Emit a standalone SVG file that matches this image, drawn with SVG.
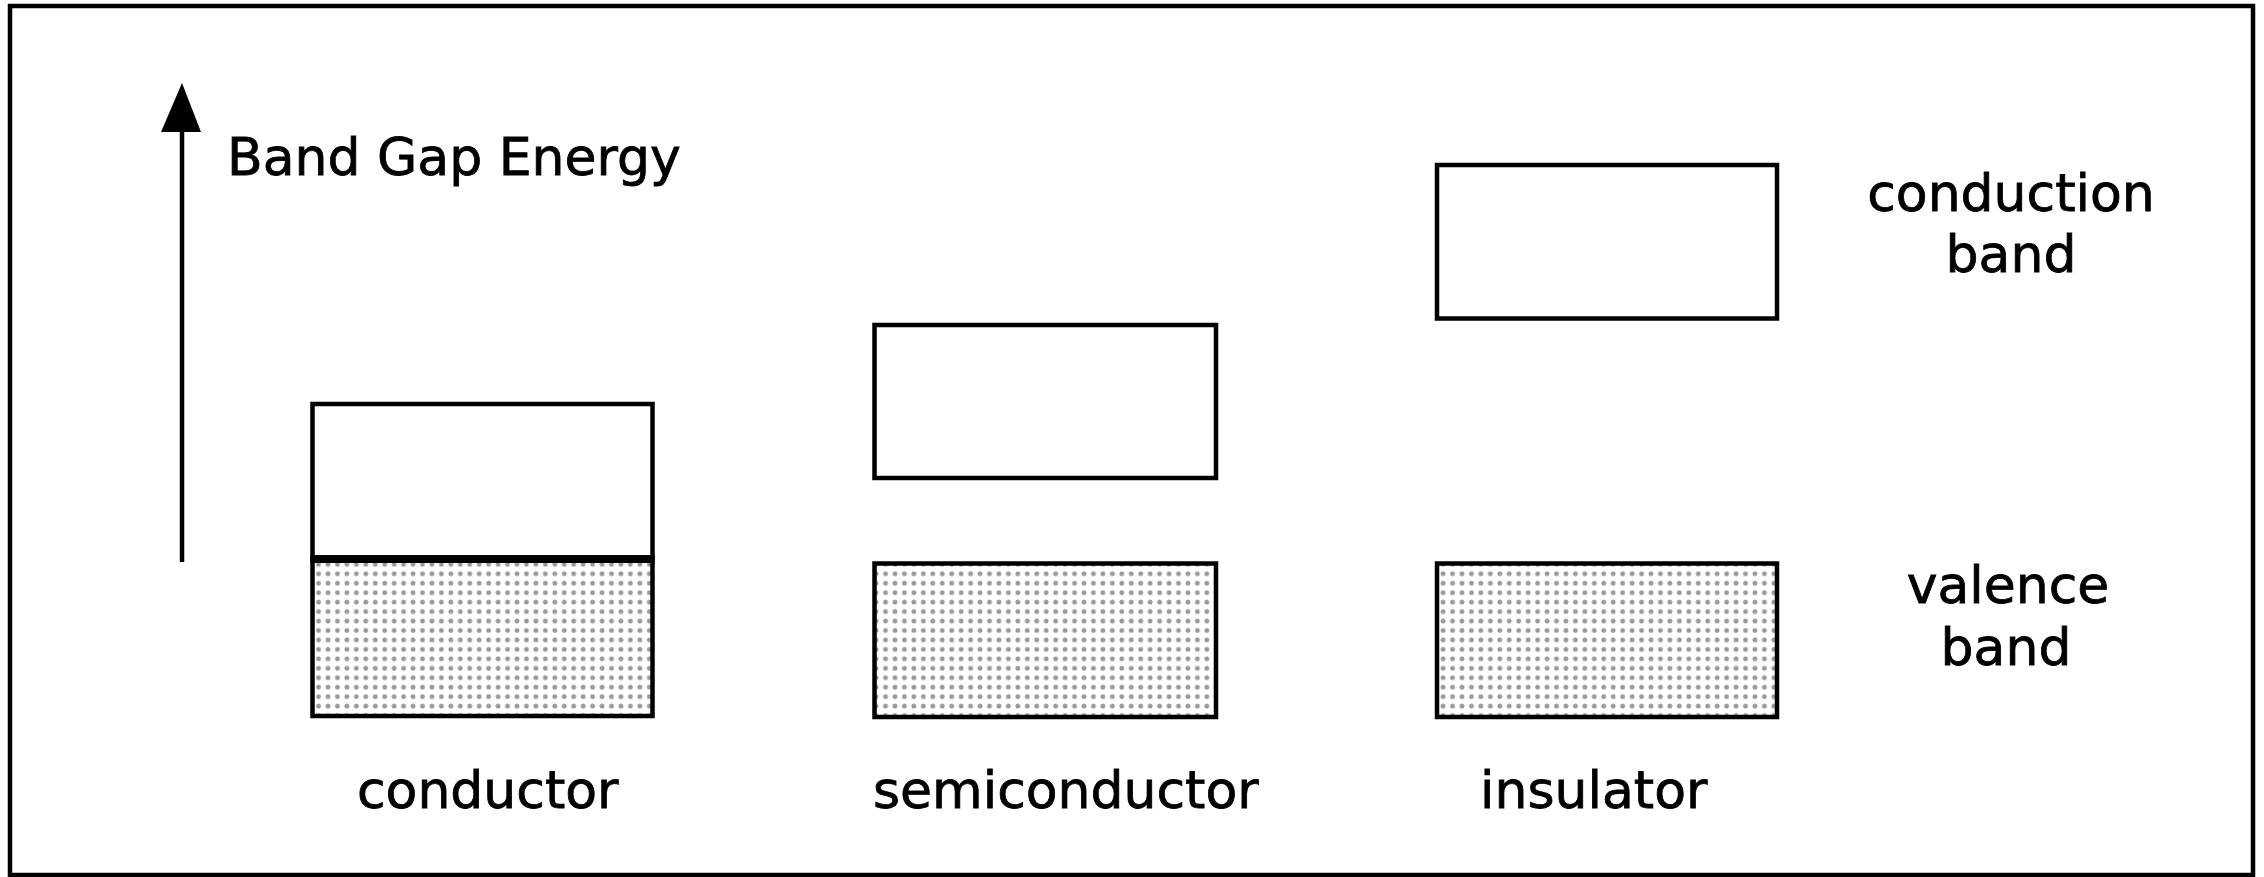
<svg xmlns="http://www.w3.org/2000/svg" width="2264" height="877" viewBox="0 0 2264 877">
  <style>
    .band { fill: #ffffff; stroke: #000000; stroke-width: 4.5; }
    .val { fill: url(#dots); stroke: #000000; stroke-width: 4.5; }
    .lbl { font-family: "DejaVu Sans", "Liberation Sans", sans-serif; font-size: 52px; fill: #000000; stroke: #000000; stroke-width: 0.8; }
  </style>
  <defs>
    <pattern id="dots" patternUnits="userSpaceOnUse" width="9.45" height="9.45" x="2" y="2">
      <rect width="9.45" height="9.45" fill="#ffffff"/>
      <circle cx="4.7" cy="4.7" r="2.4" fill="#999999"/>
    </pattern>
  </defs>
  <rect x="0" y="0" width="2264" height="877" fill="#ffffff"/>
  <rect id="frame" x="10" y="6" width="2243" height="869" fill="none" stroke="#000000" stroke-width="4.5"/>

  <g id="connectors">
    <line x1="182" y1="562" x2="182" y2="132" stroke="#000000" stroke-width="4.5"/>
    <path d="M182,83 L201,132 L161,132 Z" fill="#000000"/>
  </g>

  <g id="axis-label">
    <text class="lbl" x="227" y="175">Band Gap Energy</text>
  </g>

  <g id="conductor">
    <rect class="val" x="312.5" y="559" width="340" height="157"/>
    <rect class="band" x="312.5" y="404" width="340" height="155"/>
    <line x1="310.5" y1="559" x2="654.5" y2="559" stroke="#000000" stroke-width="8"/>
    <text class="lbl" x="357" y="808">conductor</text>
  </g>

  <g id="semiconductor">
    <rect class="band" x="874.5" y="325" width="341.5" height="153"/>
    <rect class="val" x="874.5" y="563.5" width="341.5" height="153.5"/>
    <text class="lbl" x="873" y="808">semiconductor</text>
  </g>

  <g id="insulator">
    <rect class="band" x="1437" y="165" width="340" height="153.5"/>
    <rect class="val" x="1437" y="563.5" width="340" height="153.5"/>
    <text class="lbl" x="1480" y="808">insulator</text>
  </g>

  <g id="conduction-band-label">
    <text class="lbl" x="2011" y="211" text-anchor="middle">conduction</text>
    <text class="lbl" x="2011" y="272" text-anchor="middle">band</text>
  </g>

  <g id="valence-band-label">
    <text class="lbl" x="2008" y="603" text-anchor="middle">valence</text>
    <text class="lbl" x="2006" y="665" text-anchor="middle">band</text>
  </g>
</svg>
